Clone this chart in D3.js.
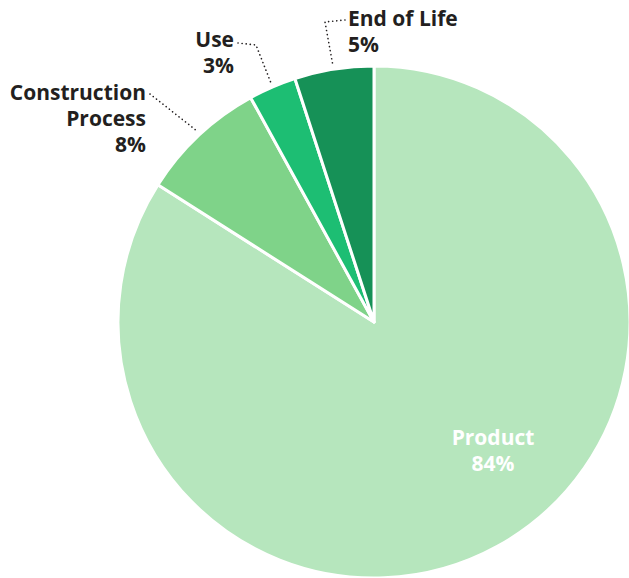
<!DOCTYPE html>
<html>
<head>
<meta charset="utf-8">
<script src="https://cdn.jsdelivr.net/npm/d3@7"></script>
<style>
  html, body { margin: 0; padding: 0; background: #fff; }
  svg { display: block; }
  text { font-family: "Open Sans", Lato, sans-serif; font-weight: 700; }
</style>
</head>
<body>
<svg id="chart" width="629" height="578"></svg>
<script>
// Life-cycle stage shares (percent)
const stages = ["Product", "Construction Process", "Use", "End of Life"];
const shares = [84, 8, 3, 5];
const colors = ["#b6e6bd", "#7fd389", "#1dbe73", "#169157"];

const width = 629, height = 578;
const cx = 374, cy = 322, radius = 256;

const svg = d3.select("#chart");
const g = svg.append("g").attr("transform", `translate(${cx},${cy})`);

const data = stages.map((s, i) => ({ stage: s, value: shares[i], color: colors[i] }));

const pie = d3.pie().value(d => d.value).sort(null);
const arc = d3.arc().innerRadius(0).outerRadius(radius);
const arcs = pie(data);

g.selectAll("path.slice")
  .data(arcs)
  .join("path")
  .attr("class", "slice")
  .attr("d", arc)
  .attr("fill", d => d.data.color)
  .attr("stroke", "#fff")
  .attr("stroke-width", 3)
  .attr("stroke-linejoin", "round");

const ink = "#231f20";
const fs = 21, lh = 26;

// Label placements (page coordinates) for each stage
const labelSpec = {
  "Product": { lines: ["Product"], x: 493, y: 445, anchor: "middle", fill: "#fff" },
  "Construction Process": { lines: ["Construction", "Process"], x: 146, y: 100, anchor: "end", fill: ink,
    leader: [[150, 94], [197, 131]] },
  "Use": { lines: ["Use"], x: 234, y: 47, anchor: "end", fill: ink,
    leader: [[238, 43], [256, 45], [271, 83]] },
  "End of Life": { lines: ["End of Life"], x: 348, y: 26, anchor: "start", fill: ink,
    leader: [[345, 20], [325, 22], [333, 66]] }
};

const labels = svg.append("g");
arcs.forEach(a => {
  const spec = labelSpec[a.data.stage];
  const t = labels.append("text")
    .attr("text-anchor", spec.anchor)
    .attr("fill", spec.fill)
    .attr("font-size", fs);
  const lines = spec.lines.concat([a.data.value + "%"]);
  lines.forEach((ln, i) => {
    t.append("tspan").attr("x", spec.x).attr("y", spec.y + i * lh).text(ln);
  });
  if (spec.leader) {
    labels.append("path")
      .attr("d", d3.line()(spec.leader))
      .attr("fill", "none")
      .attr("stroke", ink)
      .attr("stroke-width", 1.6)
      .attr("stroke-linecap", "round")
      .attr("stroke-dasharray", "0.1,4");
  }
});
</script>
</body>
</html>
